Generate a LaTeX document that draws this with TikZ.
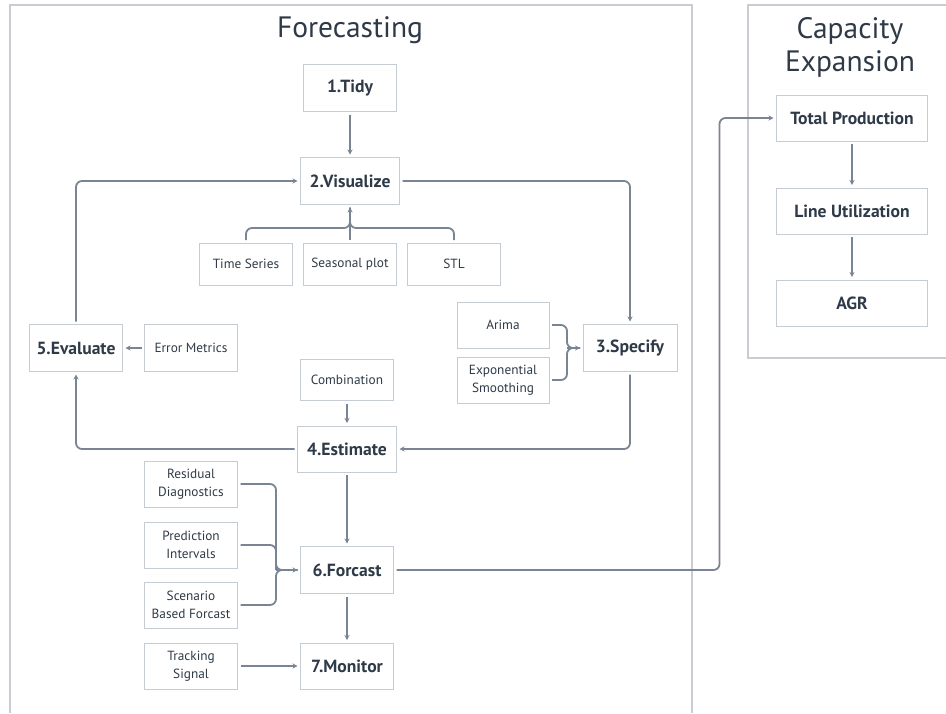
\documentclass[tikz,border=0pt]{standalone}
\usepackage{fontspec}
\setmainfont{PT Sans}
\usetikzlibrary{arrows.meta}

\definecolor{boxline}{HTML}{C6CCD3}
\definecolor{linkline}{HTML}{7A8593}
\definecolor{labeltext}{HTML}{2E3A47}
\definecolor{frameline}{HTML}{C9CDD2}

\begin{document}
\begin{tikzpicture}[x=1pt,y=-1pt,
    stage/.style={draw=boxline,line width=1pt,minimum width=93pt,minimum height=47pt,inner sep=2pt,outer sep=3pt,text=labeltext,font=\bfseries\fontsize{17.6}{20}\selectfont},
    aid/.style={draw=boxline,line width=1pt,minimum width=93pt,minimum height=46pt,inner sep=2pt,outer sep=3pt,align=center,text=labeltext,font=\fontsize{13.3}{17.5}\selectfont},
    link/.style={draw=linkline,line width=1.8pt,rounded corners=6pt,-{Stealth[length=5pt,width=5pt]}},
    merge/.style={draw=linkline,line width=1.8pt,rounded corners=6pt},
    frame/.style={draw=frameline,line width=1.4pt},
    heading/.style={text=labeltext,align=center,font=\fontsize{29.5}{33}\selectfont}]
\useasboundingbox (0,0) rectangle (946,713);

\draw[frame] (10,713) -- (10,5) -- (692,5) -- (692,713);
\draw[frame] (946,5) -- (748,5) -- (748,358) -- (946,358);
\node[heading] (fctitle) at (350,30) {Forecasting};
\node[heading] (cetitle) at (850,47) {Capacity\\Expansion};

\node[stage] (tidy) at (350,88) {1.Tidy};
\node[stage,minimum width=99pt] (viz) at (350,181) {2.Visualize};
\node[aid,minimum height=42pt] (ts) at (246,264) {Time Series};
\node[aid,minimum height=42pt] (sp) at (350,264) {Seasonal plot};
\node[aid,minimum height=42pt] (stl) at (454,264) {STL};
\node[stage] (eval) at (76,348) {5.Evaluate};
\node[aid,minimum height=47pt] (err) at (191,348) {Error Metrics};
\node[aid,minimum height=41pt] (comb) at (347,380) {Combination};
\node[stage,minimum width=99pt,minimum height=46pt] (est) at (347,449) {4.Estimate};
\node[aid,minimum width=92pt] (ar) at (503,325) {Arima};
\node[aid,minimum width=92pt] (es) at (503,380) {Exponential\\Smoothing};
\node[stage,minimum width=94pt] (spec) at (630,348) {3.Specify};
\node[aid] (rd) at (191,484) {Residual\\Diagnostics};
\node[aid] (pi) at (191,545) {Prediction\\Intervals};
\node[aid] (sb) at (191,605) {Scenario\\Based Forcast};
\node[aid] (trk) at (191,666) {Tracking\\Signal};
\node[stage] (fc) at (347,570) {6.Forcast};
\node[stage,minimum height=46pt] (mon) at (347,666) {7.Monitor};
\node[stage,minimum width=151pt,minimum height=46pt] (tp) at (852,118) {Total Production};
\node[stage,minimum width=151pt,minimum height=46pt] (lu) at (852,211) {Line Utilization};
\node[stage,minimum width=151pt,minimum height=46pt] (agr) at (852,303) {AGR};

\coordinate (vj) at (350,228);
\coordinate (sj) at (567,348);
\coordinate (fj) at (276,570);

\draw[link] (tidy) -- (viz);
\draw[link] (viz) -| (spec);
\draw[link] (spec) |- (est);
\draw[link] (est) -| (eval);
\draw[link] (eval) |- (viz);
\draw[link] (err) -- (eval);
\draw[link] (comb) -- (est);
\draw[link] (est) -- (fc);
\draw[link] (fc) -- (mon);
\draw[link] (trk) -- (mon);
\draw[link] (fc.east) -- ++(323,0) |- (tp.west);
\draw[link] (tp) -- (lu);
\draw[link] (lu) -- (agr);

\draw[merge] (ts.north) |- (vj) -- (viz.south);
\draw[merge] (stl.north) |- (vj) -- (viz.south);
\draw[link] (sp.north) -- (viz.south);

\draw[merge] (ar.east) -| (sj) -- (spec.west);
\draw[merge] (es.east) -| (sj) -- (spec.west);
\draw[link] (sj) -- (spec.west);

\draw[merge] (rd.east) -| (fj) -- (fc.west);
\draw[merge] (sb.east) -| (fj) -- (fc.west);
\draw[merge] (pi.east) -| (fj);
\draw[link] (fj) -- (fc.west);
\end{tikzpicture}
\end{document}
